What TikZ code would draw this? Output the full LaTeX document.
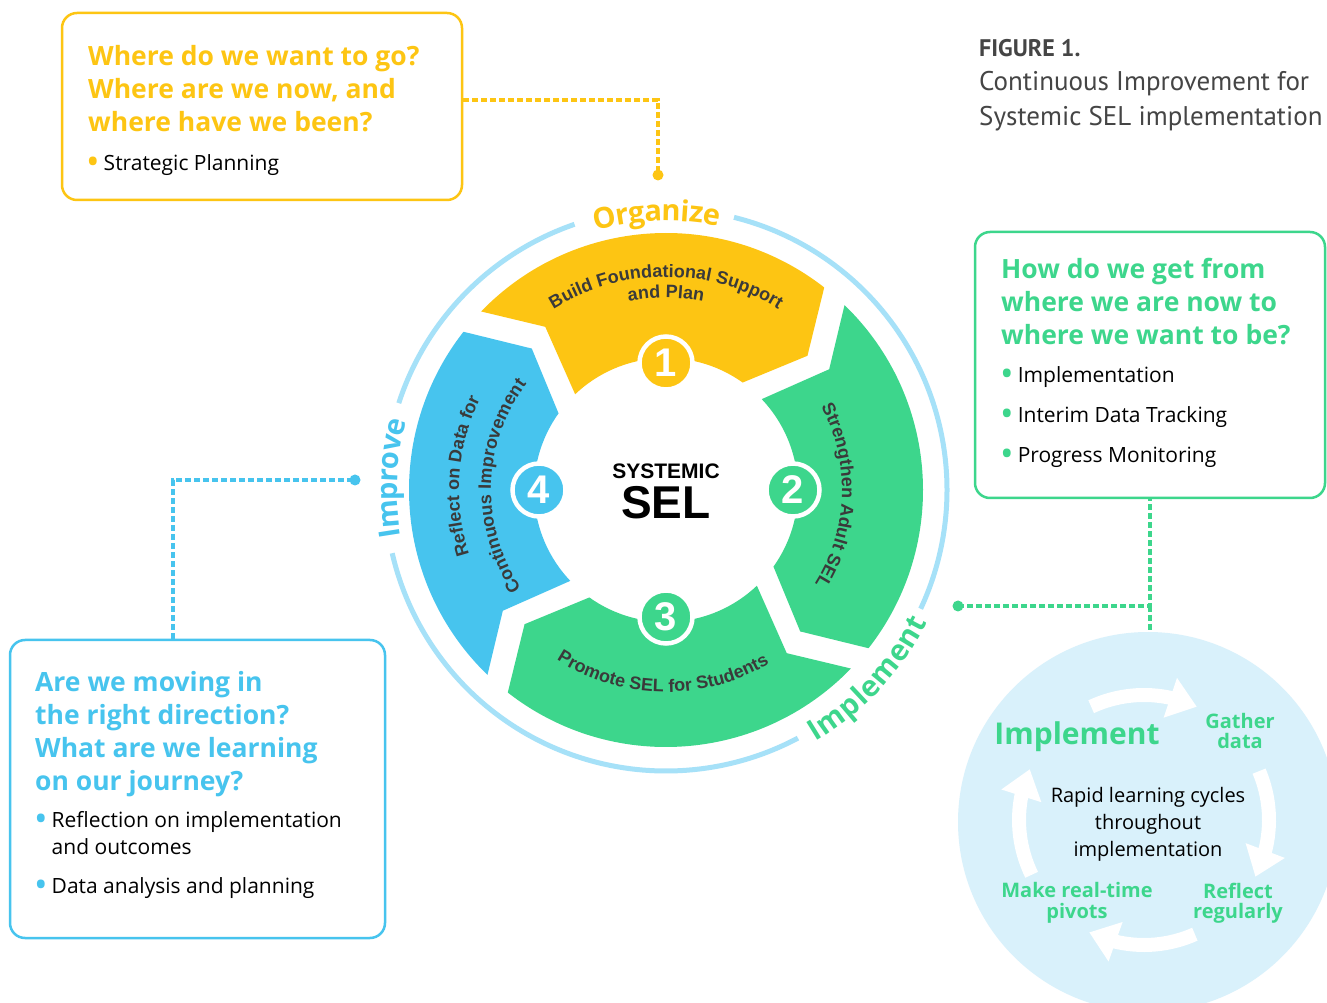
\documentclass[tikz,border=0pt]{standalone}
\usepackage{fontspec}
\setmainfont{Open Sans}
\newfontfamily\wheelfont{Liberation Sans}
\newfontfamily\titlefont{PT Sans}
\usetikzlibrary{arrows.meta,bending,decorations.text,positioning}

\definecolor{selyellow}{HTML}{FDC513}
\definecolor{selgreen}{HTML}{3DD68C}
\definecolor{selblue}{HTML}{47C4EE}
\definecolor{ringblue}{HTML}{A6E1F8}
\definecolor{cyclebg}{HTML}{D9F1FB}
\definecolor{inkgray}{HTML}{3A3A3A}
\definecolor{titlegray}{HTML}{454545}

\newcommand{\fsz}[2]{\fontsize{#1}{#2}\selectfont}
\newcommand{\segfont}{\wheelfont\bfseries\fsz{18}{18}}
\newcommand{\ringfont}{\bfseries\fsz{29}{29}}
\newcommand{\dotmark}[1]{\textcolor{#1}{\raisebox{-4.5pt}{\fsz{36}{36}\textbullet}}\hspace{4pt}}

\begin{document}
\begin{tikzpicture}[x=1pt,y=1pt,
  qbox/.style={draw=#1, line width=2.5pt, rounded corners=15pt, inner sep=0pt},
  dashlink/.style={draw=#1, line width=3.2pt, dash pattern=on 6pt off 3pt},
  linkdot/.style={circle, fill=#1, inner sep=0pt, minimum size=11pt},
  numdisc/.style={circle, fill=#1, draw=white, line width=4.5pt, minimum size=53pt,
    inner sep=0pt, text=white, font=\wheelfont\bfseries\fsz{40}{40}},
  ringarc/.style={draw=ringblue, line width=5pt},
  ringlabel/.style={decorate, decoration={text along path, text align=center, raise=-12pt}},
  segtext/.style={decorate, decoration={text along path, text align=center, text color=inkgray}},
  looparrow/.style={draw=white, line width=14pt, -{Triangle[width=40pt,length=28pt]}},
  boxhead/.style={anchor=north west, align=left, inner sep=0pt, font=\bfseries\fsz{26.5}{33}},
  boxlist/.style={anchor=north west, align=left, inner sep=0pt, font=\fsz{21}{40}},
  cyclelabel/.style={align=center, inner sep=0pt, text=selgreen, font=\bfseries\fsz{20}{20.5}},
  ]
\useasboundingbox (0,0) rectangle (1327,1002);
\clip (0,0) rectangle (1327,1002);
\fill[white] (0,0) rectangle (1327,1002);

% title
\node[anchor=north west, align=left, inner sep=0pt, text=titlegray, font=\titlefont\fsz{27}{34.5}]
  (figtitle) at (979,963) {{\bfseries\fsz{24}{34.5}FIGURE 1.}\\Continuous Improvement for\\Systemic SEL implementation};

% question boxes
\node[qbox=selyellow, minimum width=400pt, minimum height=187pt] (whereq) at (262,895.5) {};
\node[boxhead, text=selyellow] (whereqhead) at (88,957)
  {Where do we want to go?\\Where are we now, and\\where have we been?};
\node[boxlist] (whereqlist) at (86,848) {\dotmark{selyellow}Strategic Planning};

\node[qbox=selgreen, minimum width=350pt, minimum height=266pt] (howq) at (1150,637) {};
\node[boxhead, text=selgreen] (howqhead) at (1001,744)
  {How do we get from\\where we are now to\\where we want to be?};
\node[boxlist] (howqlist) at (1000,636)
  {\dotmark{selgreen}Implementation\\
   \dotmark{selgreen}Interim Data Tracking\\
   \dotmark{selgreen}Progress Monitoring};

\node[qbox=selblue, minimum width=375pt, minimum height=298pt] (movingq) at (197.5,213) {};
\node[boxhead, text=selblue] (movingqhead) at (35,331)
  {Are we moving in\\the right direction?\\What are we learning\\on our journey?};
\node[boxlist, font=\fsz{21}{27}] (movingqlist) at (34,191)
  {\dotmark{selblue}Reflection on implementation\\
   \phantom{\dotmark{selblue}}and outcomes\\[12pt]
   \dotmark{selblue}Data analysis and planning};

% rapid cycle circle
\node[circle, fill=cyclebg, minimum size=380pt, inner sep=0pt] (rapidcircle) at (1148,180) {};
\begin{scope}[shift={(1144,182)}]
\foreach \a in {115,23,-66,-154}
  \draw[looparrow] (\a:125) arc[start angle=\a, end angle=\a-50, radius=125pt];
\end{scope}
\node[text=selgreen, inner sep=0pt, font=\bfseries\fsz{30}{30}] (implhead) at (1077,265) {Implement};
\node[cyclelabel] (gather) at (1240,271) {Gather\\data};
\node[align=center, inner sep=0pt, text=black, font=\fsz{20}{27}] (rapid) at (1148,178)
  {Rapid learning cycles\\throughout\\implementation};
\node[cyclelabel] (pivots) at (1077,99) {Make real-time\\pivots};
\node[cyclelabel] (reflect) at (1238,99) {Reflect\\regularly};

% the wheel
\begin{scope}[shift={(666,512)}]
\foreach \c/\col in {94/selyellow,4/selgreen,-86/selgreen,-176/selblue}
  \fill[\col] ({\c+42}:257) arc[start angle=\c+42, end angle=\c-42, radius=257pt]
    -- ({\c-50.5}:195) -- ({\c-39.5}:132)
    arc[start angle=\c-39.5, end angle=\c+39.5, radius=132pt]
    -- ({\c+32.5}:203) -- cycle;

\draw[ringarc] (76:281) arc[start angle=76, end angle=-25, radius=281pt];
\draw[ringarc] (-62:281) arc[start angle=-62, end angle=-167, radius=281pt];
\draw[ringarc] (162:281) arc[start angle=162, end angle=109, radius=281pt];

\path[ringlabel, decoration={text color=selyellow, text={|\ringfont|Organize}}]
  (110:281) arc[start angle=110, end angle=74, radius=281pt];
\path[ringlabel, decoration={text color=selblue, text={|\ringfont|Improve}}]
  (200:281) arc[start angle=200, end angle=155, radius=281pt];
\path[ringlabel, decoration={text color=selgreen, text={|\ringfont|Implement}}]
  (-66:281) arc[start angle=-66, end angle=-20, radius=281pt];

\path[segtext, decoration={text={|\segfont|Build Foundational Support}}]
  (130:213) arc[start angle=130, end angle=50, radius=213pt];
\path[segtext, decoration={text={|\segfont|and Plan}}]
  (130:192) arc[start angle=130, end angle=50, radius=192pt];
\path[segtext, decoration={text={|\segfont|Strengthen Adult SEL}}]
  (40:176) arc[start angle=40, end angle=-44, radius=176pt];
\path[segtext, decoration={text={|\segfont|Promote SEL for Students}}]
  (-131:202) arc[start angle=-131, end angle=-51, radius=202pt];
\path[segtext, decoration={text={|\segfont|Reflect on Data for}}]
  (216:207) arc[start angle=216, end angle=136, radius=207pt];
\path[segtext, decoration={text={|\segfont|Continuous Improvement}}]
  (220:175) arc[start angle=220, end angle=137, radius=175pt];

\node[numdisc=selyellow] (num1) at (90:127) {1};
\node[numdisc=selgreen] (num2) at (0:127) {2};
\node[numdisc=selgreen] (num3) at (-90:127) {3};
\node[numdisc=selblue] (num4) at (180:127) {4};

\node[inner sep=0pt, font=\wheelfont\bfseries\fsz{21}{21}] (systemic) at (0,19) {SYSTEMIC};
\node[inner sep=0pt, font=\wheelfont\bfseries\fsz{46}{46}] (sel) at (0,-13) {SEL};
\end{scope}

% dashed links
\draw[dashlink=selyellow] ([yshift=6.5pt]whereq.east) -| (658,827);
\draw[dashlink=selblue] ([xshift=-24.5pt]movingq.north) |- (355,522);
\draw[dashlink=selgreen] (958,396) -| (howq.south);
\draw[dashlink=selgreen] (howq.south |- 0,396) -- (howq.south |- rapidcircle.north);
\node[linkdot=selyellow] (ydot) at (658,827) {};
\node[linkdot=selblue] (bdot) at (355,522) {};
\node[linkdot=selgreen] (gdot) at (958,396) {};
\end{tikzpicture}
\end{document}
